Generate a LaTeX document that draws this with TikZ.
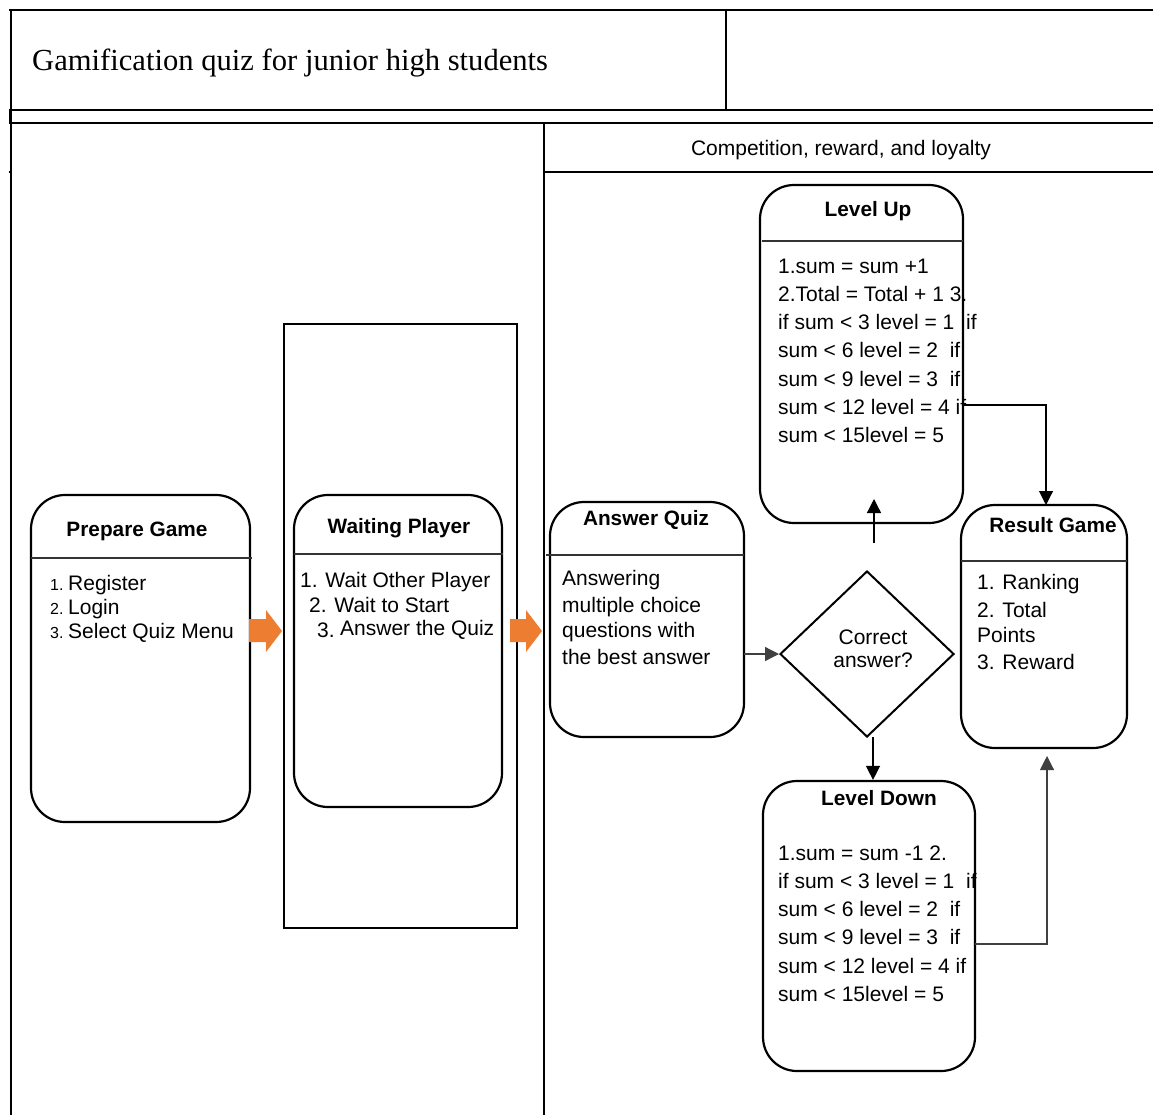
\documentclass[tikz,border=0pt]{standalone}
\usepackage{fontspec}
\setmainfont{Liberation Sans}
\newfontfamily\titlefont{Liberation Serif}
\usetikzlibrary{arrows.meta,shapes.geometric}
\definecolor{arrorange}{HTML}{ED7D31}
\tikzset{
  frm/.style={line width=2pt, line cap=rect},
  rbox/.style={draw, line width=2.2pt, rounded corners=34pt, inner sep=0pt},
  divline/.style={line width=1.3pt, draw=black!80},
  hd/.style={font=\fontsize{20.8}{24}\selectfont\bfseries, inner sep=0pt, anchor=base},
  txt/.style={font=\fontsize{21}{24}\selectfont, inner sep=0pt, anchor=base west},
  small/.style={font=\fontsize{16}{18}\selectfont, inner sep=0pt, anchor=base west},
  conn/.style={line width=1.3pt, -{Triangle[length=14pt,width=14pt]}},
  fat/.style={fill=arrorange, draw=none},
}
\begin{document}
\begin{tikzpicture}[x=1pt,y=-1pt]
\useasboundingbox (0,0) rectangle (1153,1114);
% ---------- frame ----------
\draw[frm] (10,10) -- (1153,10);
\draw[frm] (11,10) -- (11,1114);
\draw[frm] (726,10) -- (726,110);
\draw[frm] (10,110) -- (1153,110);
\draw[frm] (10,123) -- (1153,123);
\draw[line width=2.5pt] (10,110) -- (10,123);
\draw[line width=2pt] (8.5,172) -- (11,172);
\draw[frm] (544,123) -- (544,1114);
\draw[frm] (544,172) -- (1153,172);
\node[font=\titlefont\fontsize{30.6}{34}\selectfont, inner sep=0pt, anchor=base west] (title) at (32,70) {Gamification quiz for junior high students};
\node[font=\fontsize{21}{24}\selectfont, inner sep=0pt, anchor=base] (lane) at (841,155) {Competition, reward, and loyalty};
% ---------- waiting column ----------
\node[draw, line width=2pt, inner sep=0pt, minimum width=233pt, minimum height=604pt] (wcol) at (400.5,626) {};
% ---------- boxes ----------
\node[rbox, minimum width=219pt, minimum height=327pt] (prep) at (140.5,658.5) {};
\node[rbox, minimum width=208pt, minimum height=312pt] (wait) at (398,651) {};
\node[rbox, minimum width=194pt, minimum height=235pt] (aq) at (647,619.5) {};
\node[rbox, minimum width=203pt, minimum height=338pt] (lu) at (861.5,354) {};
\node[rbox, minimum width=166pt, minimum height=243pt] (rg) at (1044,626.5) {};
\node[rbox, minimum width=212pt, minimum height=290pt] (ld) at (869,926) {};
\node[diamond, draw, line width=2pt, inner sep=0pt, minimum width=174pt, minimum height=166pt] (dia) at (867,654) {};
% ---------- dividers ----------
\draw[divline] (31,558) -- (252,558);
\draw[divline] (294,554) -- (503,554);
\draw[divline] (546,555) -- (744,555);
\draw[divline] (762,241) -- (963,241);
\draw[divline] (961,561) -- (1127,561);
% ---------- orange arrows ----------
\fill[fat] (249,619) -- (266,619) -- (266,610) -- (282,631) -- (266,652) -- (266,642) -- (249,642) -- cycle;
\fill[fat] (510,619) -- (526,619) -- (526,610) -- (542,631) -- (526,652) -- (526,642) -- (510,642) -- cycle;
% ---------- Prepare Game ----------
\node[hd] (prept) at (137,536) {Prepare Game};
\node[small] (pn1) at (50,590) {1.};
\node[txt] (p1) at (68,590) {Register};
\node[small] (pn2) at (50,614) {2.};
\node[txt] (p2) at (68,614) {Login};
\node[small] (pn3) at (50,638) {3.};
\node[txt] (p3) at (68,638) {Select Quiz Menu};
% ---------- Waiting Player ----------
\node[hd] (waitt) at (399,533) {Waiting Player};
\node[txt] (w1) at (300,587) {1. Wait Other Player};
\node[txt] (w2) at (309,612) {2. Wait to Start};
\node[txt] (w3n) at (317,637) {3.};
\node[txt] (w3) at (340,635) {Answer the Quiz};
% ---------- Answer Quiz ----------
\node[hd] (aqt) at (646,525) {Answer Quiz};
\node[txt] (a1) at (562,585) {Answering};
\node[txt] (a2) at (562,612) {multiple choice};
\node[txt] (a3) at (562,637) {questions with};
\node[txt] (a4) at (562,664) {the best answer};
% ---------- diamond text ----------
\node[txt, anchor=base] (d1) at (873,644) {Correct};
\node[txt, anchor=base] (d2) at (873,667) {answer?};
% ---------- Level Up ----------
\node[hd] (lut) at (868,216) {Level Up};
\node[txt] (u1) at (778,273) {1.sum = sum +1};
\node[txt] (u2) at (778,301.3) {2.Total = Total + 1 3.};
\node[txt] (u3) at (778,329.6) {if sum < 3 level = 1\ \ if};
\node[txt] (u4) at (778,357.9) {sum < 6 level = 2\ \ if};
\node[txt] (u5) at (778,386.2) {sum < 9 level = 3\ \ if};
\node[txt] (u6) at (778,414.5) {sum < 12 level = 4 if};
\node[txt] (u7) at (778,442.8) {sum < 15level = 5};
% ---------- Result Game ----------
\node[hd] (rgt) at (1053,532) {Result Game};
\node[txt] (r1) at (977,589) {1. Ranking};
\node[txt] (r2) at (977,617) {2. Total};
\node[txt] (r3) at (977,642) {Points};
\node[txt] (r4) at (977,669) {3. Reward};
% ---------- Level Down ----------
\node[hd] (ldt) at (879,805) {Level Down};
\node[txt] (l1) at (778,860) {1.sum = sum -1 2.};
\node[txt] (l2) at (778,888.3) {if sum < 3 level = 1\ \ if};
\node[txt] (l3) at (778,916.6) {sum < 6 level = 2\ \ if};
\node[txt] (l4) at (778,944.9) {sum < 9 level = 3\ \ if};
\node[txt] (l5) at (778,973.2) {sum < 12 level = 4 if};
\node[txt] (l6) at (778,1001.5) {sum < 15level = 5};
% ---------- connectors ----------
\coordinate (aqout) at (744,654);
\coordinate (upstart) at (874,543);
\coordinate (uptip) at (874,499);
\coordinate (dnstart) at (873,737);
\coordinate (luout) at (963,405);
\coordinate (rgtop) at (1046,505);
\coordinate (ldout) at (975,944);
\coordinate (rgbot) at (1047,756);
\draw[conn, draw=black!75] (aqout) -- (dia.west);
\draw[conn] (upstart) -- (uptip);
\draw[conn] (dnstart) -- (dnstart |- ld.north);
\draw[conn, line width=1.1pt] (luout) -| (rgtop);
\draw[conn, line width=1.1pt, draw=black!75] (ldout) -| (rgbot);
\end{tikzpicture}
\end{document}
